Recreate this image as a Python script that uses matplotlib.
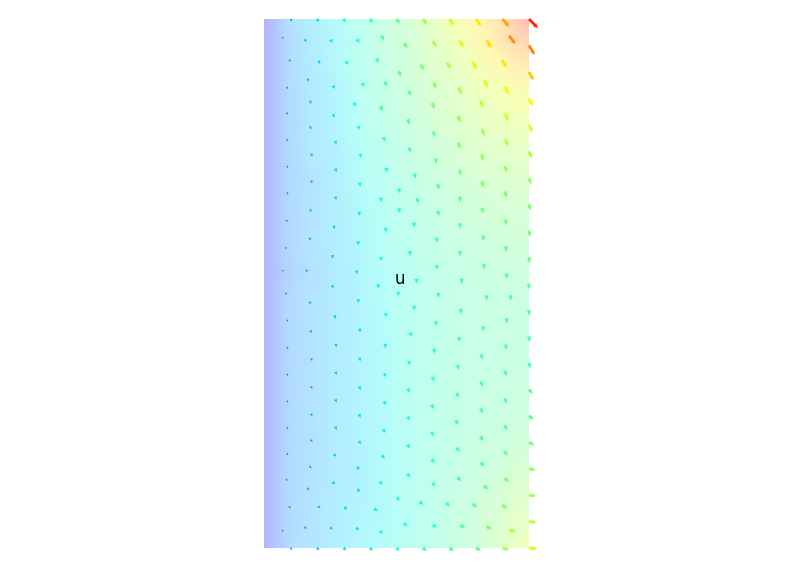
import numpy as np
import matplotlib
matplotlib.use("Agg")
import matplotlib.pyplot as plt
import matplotlib.tri as mtri
from matplotlib.colors import ListedColormap, Normalize

# boundary nodes of the [0,1] x [0,2] domain
top_x = [0.0, 0.1, 0.2, 0.3, 0.4, 0.5, 0.6, 0.7, 0.8, 0.9, 1.0]
top_mag = [0.0, 0.23, 0.29, 0.35, 0.41, 0.47, 0.56, 0.65, 0.72, 0.82, 1.0]
top_ang = [-55, -55, -55, -55, -55, -55, -55, -55, -54, -50, -45]

bottom_x = [0.0, 0.1, 0.2, 0.3, 0.4, 0.5, 0.6, 0.7, 0.8, 0.9, 1.0]
bottom_mag = [0.0, 0.21, 0.25, 0.29, 0.33, 0.35, 0.39, 0.43, 0.47, 0.56, 0.66]
bottom_ang = [-40, -40, -40, -40, -40, -40, -40, -35, -28, -15, -5]

side_y = [1.9, 1.8, 1.7, 1.6, 1.5, 1.4, 1.3, 1.2, 1.1, 1.0,
          0.9, 0.8, 0.7, 0.6, 0.5, 0.4, 0.3, 0.2, 0.1]
right_mag = [0.87, 0.77, 0.70, 0.65, 0.60, 0.56, 0.52, 0.50, 0.48, 0.46,
             0.45, 0.44, 0.44, 0.46, 0.47, 0.50, 0.53, 0.57, 0.61]
right_ang = [-59, -61, -63, -65, -68, -72, -75, -80, -85, -88,
             -88, -85, -75, -50, -40, -30, -12, -8, -5]

# interior nodes: x, y, |u|, direction (deg)
inner_x = [0.071, 0.157, 0.255, 0.356, 0.448, 0.535, 0.645, 0.746, 0.850, 0.937,
           0.098, 0.209, 0.314, 0.429, 0.513, 0.597, 0.698, 0.796, 0.907,
           0.167, 0.088, 0.264, 0.375, 0.460, 0.551, 0.645, 0.740, 0.838, 0.916,
           0.176, 0.343, 0.639, 0.822,
           0.444, 0.088, 0.264, 0.546, 0.737, 0.916, 0.176, 0.358, 0.642, 0.828,
           0.088, 0.271, 0.454, 0.737, 0.916, 0.180, 0.365, 0.551, 0.649, 0.825,
           0.089, 0.272, 0.463, 0.740, 0.913, 0.180, 0.362, 0.570, 0.658, 0.825,
           0.089, 0.511, 0.913,
           0.271, 0.442, 0.580, 0.740, 0.176, 0.360, 0.511, 0.658, 0.825,
           0.086, 0.265, 0.460, 0.567, 0.740, 0.913, 0.174, 0.356, 0.652, 0.828,
           0.083, 0.259, 0.442, 0.551, 0.740, 0.913, 0.071, 0.161, 0.350,
           0.652, 0.830, 0.916, 0.576, 0.746,
           0.259, 0.431, 0.083, 0.507, 0.658, 0.840, 0.931, 0.174, 0.356, 0.567,
           0.743, 0.268, 0.460, 0.088, 0.649, 0.916, 0.177, 0.362, 0.554, 0.828,
           0.737, 0.272, 0.458, 0.089, 0.913, 0.643, 0.822, 0.180, 0.362, 0.548,
           0.733,
           0.089, 0.272, 0.457, 0.912, 0.639, 0.822, 0.180, 0.362, 0.547, 0.731,
           0.089, 0.272, 0.457, 0.912, 0.637, 0.822, 0.180, 0.362, 0.547, 0.729,
           0.089, 0.272, 0.454, 0.913, 0.637, 0.822, 0.180, 0.362, 0.547, 0.733,
           0.089, 0.268, 0.451, 0.913,
           0.639, 0.825, 0.176, 0.356, 0.546, 0.737, 0.086, 0.264, 0.442, 0.916,
           0.642, 0.838, 0.167, 0.358, 0.507, 0.595, 0.695, 0.796, 0.909, 0.098,
           0.209, 0.309, 0.423, 0.535, 0.645, 0.750, 0.850, 0.938, 0.071, 0.157,
           0.255, 0.354, 0.444]
inner_y = [1.928, 1.918, 1.916, 1.916, 1.928, 1.899, 1.905, 1.905, 1.905, 1.921,
           1.842, 1.836, 1.833, 1.842, 1.792, 1.817, 1.823, 1.823, 1.830,
           1.769, 1.739, 1.742, 1.750, 1.754, 1.719, 1.748, 1.729, 1.754, 1.729,
           1.685, 1.676, 1.672, 1.679,
           1.661, 1.642, 1.633, 1.611, 1.621, 1.629, 1.588, 1.588, 1.564, 1.570,
           1.541, 1.532, 1.545, 1.520, 1.532, 1.485, 1.482, 1.504, 1.463, 1.476,
           1.440, 1.428, 1.428, 1.419, 1.432, 1.384, 1.374, 1.406, 1.365, 1.375,
           1.340, 1.350, 1.336,
           1.322, 1.316, 1.313, 1.318, 1.275, 1.263, 1.275, 1.265, 1.275,
           1.236, 1.212, 1.202, 1.221, 1.217, 1.231, 1.167, 1.152, 1.164, 1.171,
           1.133, 1.101, 1.093, 1.114, 1.114, 1.130, 1.048, 1.047, 1.042,
           1.061, 1.064, 1.028, 1.009, 1.009,
           0.987, 0.989, 0.961, 0.961, 0.955, 0.945, 0.945, 0.926, 0.933, 0.907,
           0.895, 0.873, 0.880, 0.859, 0.848, 0.859, 0.817, 0.822, 0.806, 0.829,
           0.788, 0.765, 0.763, 0.756, 0.759, 0.744, 0.722, 0.712, 0.712, 0.699,
           0.682,
           0.654, 0.660, 0.653, 0.660, 0.638, 0.619, 0.606, 0.604, 0.594, 0.577,
           0.553, 0.556, 0.547, 0.556, 0.533, 0.518, 0.503, 0.499, 0.489, 0.474,
           0.453, 0.453, 0.442, 0.455, 0.430, 0.413, 0.405, 0.398, 0.383, 0.371,
           0.354, 0.350, 0.344, 0.357,
           0.328, 0.315, 0.305, 0.301, 0.273, 0.260, 0.257, 0.245, 0.245, 0.257,
           0.239, 0.229, 0.223, 0.217, 0.185, 0.169, 0.164, 0.160, 0.156, 0.154,
           0.154, 0.150, 0.144, 0.088, 0.082, 0.081, 0.076, 0.065, 0.065, 0.076,
           0.074, 0.072, 0.059]
inner_mag = [0.16, 0.25, 0.31, 0.37, 0.44, 0.49, 0.58, 0.66, 0.74, 0.85,
             0.21, 0.28, 0.345, 0.41, 0.46, 0.52, 0.59, 0.66, 0.73,
             0.25, 0.18, 0.30, 0.37, 0.42, 0.47, 0.54, 0.59, 0.66, 0.69,
             0.25, 0.35, 0.52, 0.62,
             0.41, 0.18, 0.30, 0.45, 0.56, 0.64, 0.25, 0.345, 0.49, 0.58,
             0.18, 0.295, 0.39, 0.525, 0.595, 0.25, 0.34, 0.435, 0.475, 0.55,
             0.18, 0.285, 0.38, 0.50, 0.555, 0.24, 0.33, 0.425, 0.455, 0.515,
             0.18, 0.39, 0.525,
             0.28, 0.36, 0.41, 0.47, 0.24, 0.32, 0.38, 0.44, 0.49,
             0.17, 0.275, 0.355, 0.40, 0.455, 0.50, 0.24, 0.31, 0.42, 0.47,
             0.17, 0.26, 0.34, 0.38, 0.44, 0.48, 0.14, 0.22, 0.30,
             0.41, 0.45, 0.455, 0.38, 0.43,
             0.26, 0.33, 0.17, 0.35, 0.41, 0.44, 0.45, 0.23, 0.30, 0.375,
             0.43, 0.27, 0.34, 0.18, 0.40, 0.445, 0.23, 0.30, 0.365, 0.435,
             0.42, 0.27, 0.33, 0.18, 0.44, 0.39, 0.43, 0.23, 0.30, 0.365,
             0.42,
             0.18, 0.27, 0.33, 0.445, 0.39, 0.435, 0.23, 0.30, 0.365, 0.42,
             0.18, 0.27, 0.33, 0.45, 0.39, 0.435, 0.23, 0.30, 0.36, 0.42,
             0.18, 0.27, 0.33, 0.46, 0.39, 0.445, 0.23, 0.30, 0.36, 0.42,
             0.18, 0.27, 0.325, 0.48,
             0.39, 0.45, 0.23, 0.29, 0.36, 0.43, 0.18, 0.27, 0.33, 0.51,
             0.395, 0.47, 0.23, 0.29, 0.35, 0.38, 0.42, 0.47, 0.535, 0.20,
             0.25, 0.29, 0.32, 0.355, 0.39, 0.455, 0.51, 0.58, 0.15, 0.23,
             0.27, 0.31, 0.33]
inner_ang = [-58, -58, -58, -58, -58, -58, -58, -57, -56, -53,
             -61, -61, -61, -61, -63, -62, -62, -61, -60,
             -64, -64, -64, -64, -64, -65, -64, -65, -64, -65,
             -67, -67, -67, -66,
             -67, -68, -68, -69, -69, -68, -70, -70, -71, -70,
             -71, -71, -71, -72, -71, -73, -73, -72, -74, -73,
             -74, -75, -75, -75, -74, -76, -76, -75, -77, -76,
             -77, -77, -78,
             -78, -78, -78, -78, -79, -80, -79, -80, -79,
             -81, -82, -82, -82, -82, -81, -83, -84, -84, -84,
             -85, -86, -86, -85, -85, -85, -88, -88, -88,
             -88, -88, -88, -89, -89,
             -89, -89, -89, -89, -89, -88, -88, -88, -88, -87,
             -87, -87, -87, -86, -86, -86, -85, -85, -84, -85,
             -83, -82, -82, -82, -82, -81, -79, -79, -79, -78,
             -76,
             -74, -75, -74, -73, -73, -71, -70, -70, -69, -68,
             -66, -66, -66, -64, -64, -62, -63, -62, -61, -60,
             -60, -60, -59, -57, -57, -55, -57, -56, -55, -53,
             -54, -54, -53, -48,
             -51, -48, -51, -51, -48, -46, -47, -46, -46, -38,
             -45, -40, -45, -44, -41, -40, -38, -35, -27, -40,
             -40, -40, -39, -34, -33, -30, -27, -18, -35, -35,
             -35, -35, -35]

# nodes with their tail on the boundary
bx = np.array(top_x + bottom_x + [1.0] * len(side_y) + [0.0] * len(side_y))
by = np.array([2.0] * len(top_x) + [0.0] * len(bottom_x) + side_y + side_y)
bm = np.array(top_mag + bottom_mag + right_mag + [0.0] * len(side_y))
ba = np.radians(top_ang + bottom_ang + right_ang + [0] * len(side_y))

ix = np.array(inner_x)
iy = np.array(inner_y)
im = np.array(inner_mag)
ia = np.radians(inner_ang)

# jet washed out with white for the magnitude background
jet = plt.get_cmap("jet")(np.linspace(0, 1, 256))
pale = jet.copy()
pale[:, :3] = 0.3 * jet[:, :3] + 0.7
pale_cmap = ListedColormap(pale)
norm = Normalize(vmin=-0.15, vmax=1.17)

fig = plt.figure(figsize=(8, 5.7), dpi=100)
ax = fig.add_axes([0.33, 0.0386, 0.33125, 0.928])

all_x = np.concatenate([bx, ix])
all_y = np.concatenate([by, iy])
all_m = np.concatenate([bm, im])
tri = mtri.Triangulation(all_x, all_y)
ax.tripcolor(tri, all_m, shading="gouraud", cmap=pale_cmap, norm=norm)

qkw = dict(angles="xy", scale_units="xy", scale=21, cmap="jet", norm=norm,
           width=0.0105, headwidth=1.7, headlength=1.7, headaxislength=1.5,
           minlength=0.6, linewidth=0, clip_on=False)
keep = bm > 0
ax.quiver(bx[keep], by[keep], (bm * np.cos(ba))[keep], (bm * np.sin(ba))[keep],
          bm[keep], pivot="tail", **qkw)
ax.quiver(ix, iy, im * np.cos(ia), im * np.sin(ia), im, pivot="middle", **qkw)

ax.text(0.513, 1.017, "u", ha="center", va="center", fontsize=12)

ax.set_xlim(0, 1)
ax.set_ylim(0, 2)
ax.set_aspect("auto")
ax.axis("off")

fig.savefig("out.png", dpi=100)
